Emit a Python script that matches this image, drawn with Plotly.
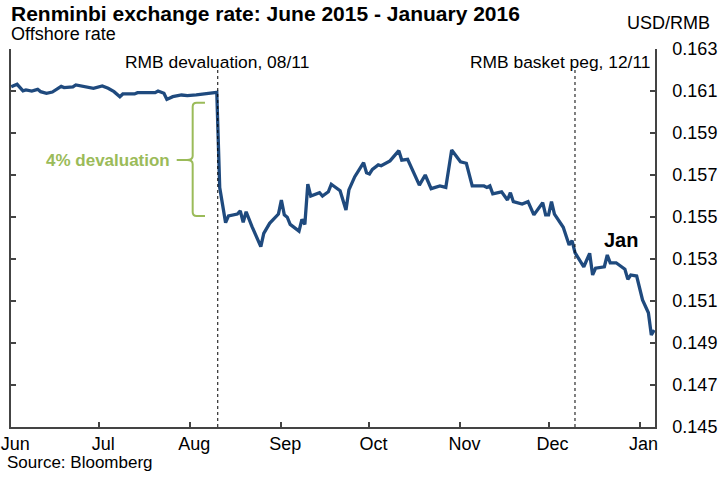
"""Renminbi offshore rate, June 2015 - January 2016."""

import plotly.graph_objects as go

# Offshore rate (USD per RMB)
dates = [
    "2015-06-01", "2015-06-03", "2015-06-05", "2015-06-06", "2015-06-08",
    "2015-06-10", "2015-06-11", "2015-06-13", "2015-06-15", "2015-06-18",
    "2015-06-19", "2015-06-22", "2015-06-23", "2015-06-26", "2015-06-29",
    "2015-07-02", "2015-07-04", "2015-07-06", "2015-07-08", "2015-07-09",
    "2015-07-13", "2015-07-14", "2015-07-17", "2015-07-20", "2015-07-21",
    "2015-07-23", "2015-07-24", "2015-07-26", "2015-07-29", "2015-07-31",
    "2015-08-03", "2015-08-07", "2015-08-10", "2015-08-11", "2015-08-12",
    "2015-08-13", "2015-08-14", "2015-08-17", "2015-08-18", "2015-08-19",
    "2015-08-20", "2015-08-22", "2015-08-25", "2015-08-26", "2015-08-28",
    "2015-08-31", "2015-09-01", "2015-09-02", "2015-09-03", "2015-09-04",
    "2015-09-07", "2015-09-08", "2015-09-09", "2015-09-10", "2015-09-11",
    "2015-09-14", "2015-09-15", "2015-09-17", "2015-09-18", "2015-09-21",
    "2015-09-23", "2015-09-24", "2015-09-26", "2015-09-29", "2015-09-30",
    "2015-10-01", "2015-10-02", "2015-10-04", "2015-10-05", "2015-10-08",
    "2015-10-11", "2015-10-12", "2015-10-14", "2015-10-16", "2015-10-18",
    "2015-10-20", "2015-10-22", "2015-10-25", "2015-10-27", "2015-10-29",
    "2015-11-01", "2015-11-03", "2015-11-05", "2015-11-09", "2015-11-10",
    "2015-11-11", "2015-11-12", "2015-11-15", "2015-11-17", "2015-11-18",
    "2015-11-19", "2015-11-22", "2015-11-24", "2015-11-26", "2015-11-29",
    "2015-11-30", "2015-12-01", "2015-12-02", "2015-12-03", "2015-12-06",
    "2015-12-08", "2015-12-09", "2015-12-10", "2015-12-13", "2015-12-15",
    "2015-12-16", "2015-12-17", "2015-12-20", "2015-12-21", "2015-12-22",
    "2015-12-24", "2015-12-27", "2015-12-28", "2015-12-29", "2015-12-31",
    "2016-01-02", "2016-01-04", "2016-01-05", "2016-01-06",
]
rates = [
    0.16120, 0.16132, 0.16101, 0.16105, 0.16100,
    0.16108, 0.16097, 0.16089, 0.16095, 0.16122,
    0.16116, 0.16120, 0.16129, 0.16120, 0.16113,
    0.16124, 0.16113, 0.16097, 0.16073, 0.16086,
    0.16086, 0.16092, 0.16092, 0.16092, 0.16100,
    0.16089, 0.16060, 0.16073, 0.16081, 0.16078,
    0.16082, 0.16089, 0.16094, 0.15640, 0.15560,
    0.15473, 0.15505, 0.15514, 0.15529, 0.15475,
    0.15525, 0.15454, 0.15359, 0.15422, 0.15470,
    0.15514, 0.15581, 0.15510, 0.15499, 0.15465,
    0.15433, 0.15489, 0.15465, 0.15656, 0.15600,
    0.15616, 0.15600, 0.15620, 0.15656, 0.15625,
    0.15533, 0.15629, 0.15692, 0.15759, 0.15711,
    0.15705, 0.15727, 0.15748, 0.15744, 0.15767,
    0.15816, 0.15771, 0.15775, 0.15711, 0.15652,
    0.15700, 0.15635, 0.15648, 0.15641, 0.15819,
    0.15763, 0.15756, 0.15648, 0.15648, 0.15641,
    0.15648, 0.15610, 0.15620, 0.15581, 0.15616,
    0.15573, 0.15562, 0.15573, 0.15510, 0.15568,
    0.15510, 0.15510, 0.15573, 0.15514, 0.15451,
    0.15367, 0.15387, 0.15330, 0.15263, 0.15327,
    0.15224, 0.15256, 0.15263, 0.15319, 0.15282,
    0.15282, 0.15251, 0.15203, 0.15224, 0.15219,
    0.15105, 0.15044, 0.14938, 0.14962,
]

# Month ticks
month_ticks = [
    "2015-06-01", "2015-07-01", "2015-08-01", "2015-09-01",
    "2015-10-01", "2015-11-01", "2015-12-01", "2016-01-01",
]
month_labels = ["Jun", "Jul", "Aug", "Sep", "Oct", "Nov", "Dec", "Jan"]

# Event markers (dashed lines)
devaluation_date = "2015-08-10 08:00"
basket_peg_date = "2015-12-10"

FONT = "Liberation Sans, Arial, sans-serif"
LINE_BLUE = "#1F4A7E"
GREEN = "#9BBB59"
AXIS = "#444444"

fig = go.Figure()

fig.add_trace(
    go.Scatter(
        x=dates,
        y=rates,
        mode="lines",
        line=dict(color=LINE_BLUE, width=3.3),
        showlegend=False,
    )
)

# Dashed event lines
for d in (devaluation_date, basket_peg_date):
    fig.add_shape(
        type="line",
        xref="x",
        yref="y",
        x0=d,
        x1=d,
        y0=0.145,
        y1=0.1621,
        line=dict(color="black", width=1, dash="3px,3px"),
    )

# Curly bracket for the 4% devaluation
fig.add_shape(
    type="path",
    xref="paper",
    yref="paper",
    path=(
        "M 0.3012,0.858 L 0.2883,0.858 Q 0.2821,0.858 0.2821,0.8474 "
        "L 0.2821,0.7169 Q 0.2821,0.7063 0.2733,0.7063 "
        "Q 0.2821,0.7063 0.2821,0.6957 L 0.2821,0.5688 "
        "Q 0.2821,0.5582 0.2883,0.5582 L 0.3012,0.5582"
    ),
    line=dict(color=GREEN, width=2),
)
fig.add_shape(
    type="line",
    xref="paper",
    yref="paper",
    x0=0.2573,
    x1=0.2733,
    y0=0.7063,
    y1=0.7063,
    line=dict(color=GREEN, width=2),
)

annotations = [
    dict(text="<b>Renminbi exchange rate: June 2015 - January 2016</b>",
         x=-0.003, y=1.093, xanchor="left", font=dict(size=21, color="black")),
    dict(text="Offshore rate", x=-0.003, y=1.040, xanchor="left",
         font=dict(size=18, color="black")),
    dict(text="USD/RMB", x=1.0885, y=1.0675, xanchor="right",
         font=dict(size=18, color="black")),
    dict(text="RMB devaluation, 08/11", x=0.174, y=0.9656, xanchor="left",
         font=dict(size=17.4, color="black")),
    dict(text="RMB basket peg, 12/11", x=0.9953, y=0.9656, xanchor="right",
         font=dict(size=17.4, color="black")),
    dict(text="<b>Jan</b>", x=0.947, y=0.4947, xanchor="center",
         font=dict(size=20, color="black")),
    dict(text="<b>4% devaluation</b>", x=0.2495, y=0.7063, xanchor="right",
         font=dict(size=17, color=GREEN)),
    dict(text="Source: Bloomberg", x=-0.009, y=-0.0952, xanchor="left",
         font=dict(size=17, color="black")),
]
for a in annotations:
    fig.add_annotation(
        xref="paper", yref="paper", yanchor="middle", showarrow=False, **a
    )

fig.update_layout(
    width=722,
    height=478,
    margin=dict(l=11, r=67, t=49, b=51),
    paper_bgcolor="white",
    plot_bgcolor="white",
    font=dict(family=FONT, color="black"),
    showlegend=False,
    xaxis=dict(
        type="date",
        range=["2015-05-31 22:00", "2016-01-06 06:00"],
        tickvals=month_ticks,
        ticktext=month_labels,
        ticks="inside",
        ticklen=5,
        tickcolor=AXIS,
        tickwidth=1.5,
        ticklabelshift=4,
        ticklabeloverflow="allow",
        showline=True,
        linecolor=AXIS,
        linewidth=1.5,
        showgrid=False,
        zeroline=False,
        automargin=False,
        tickfont=dict(size=18, color="black"),
    ),
    yaxis=dict(
        side="right",
        range=[0.145, 0.163],
        tick0=0.145,
        dtick=0.002,
        tickformat=".3f",
        ticks="inside",
        ticklen=5,
        tickcolor=AXIS,
        tickwidth=1.5,
        showline=True,
        mirror="ticks",
        linecolor=AXIS,
        linewidth=1.5,
        showgrid=False,
        zeroline=False,
        automargin=False,
        ticklabelstandoff=12,
        ticklabeloverflow="allow",
        tickfont=dict(size=18, color="black"),
    ),
)

# the page body has a default 8px margin; drop it so the chart sits at 0,0
fig.write_html(
    "out.html",
    config={"displayModeBar": False},
    post_script="document.body.style.margin = '0';",
)
